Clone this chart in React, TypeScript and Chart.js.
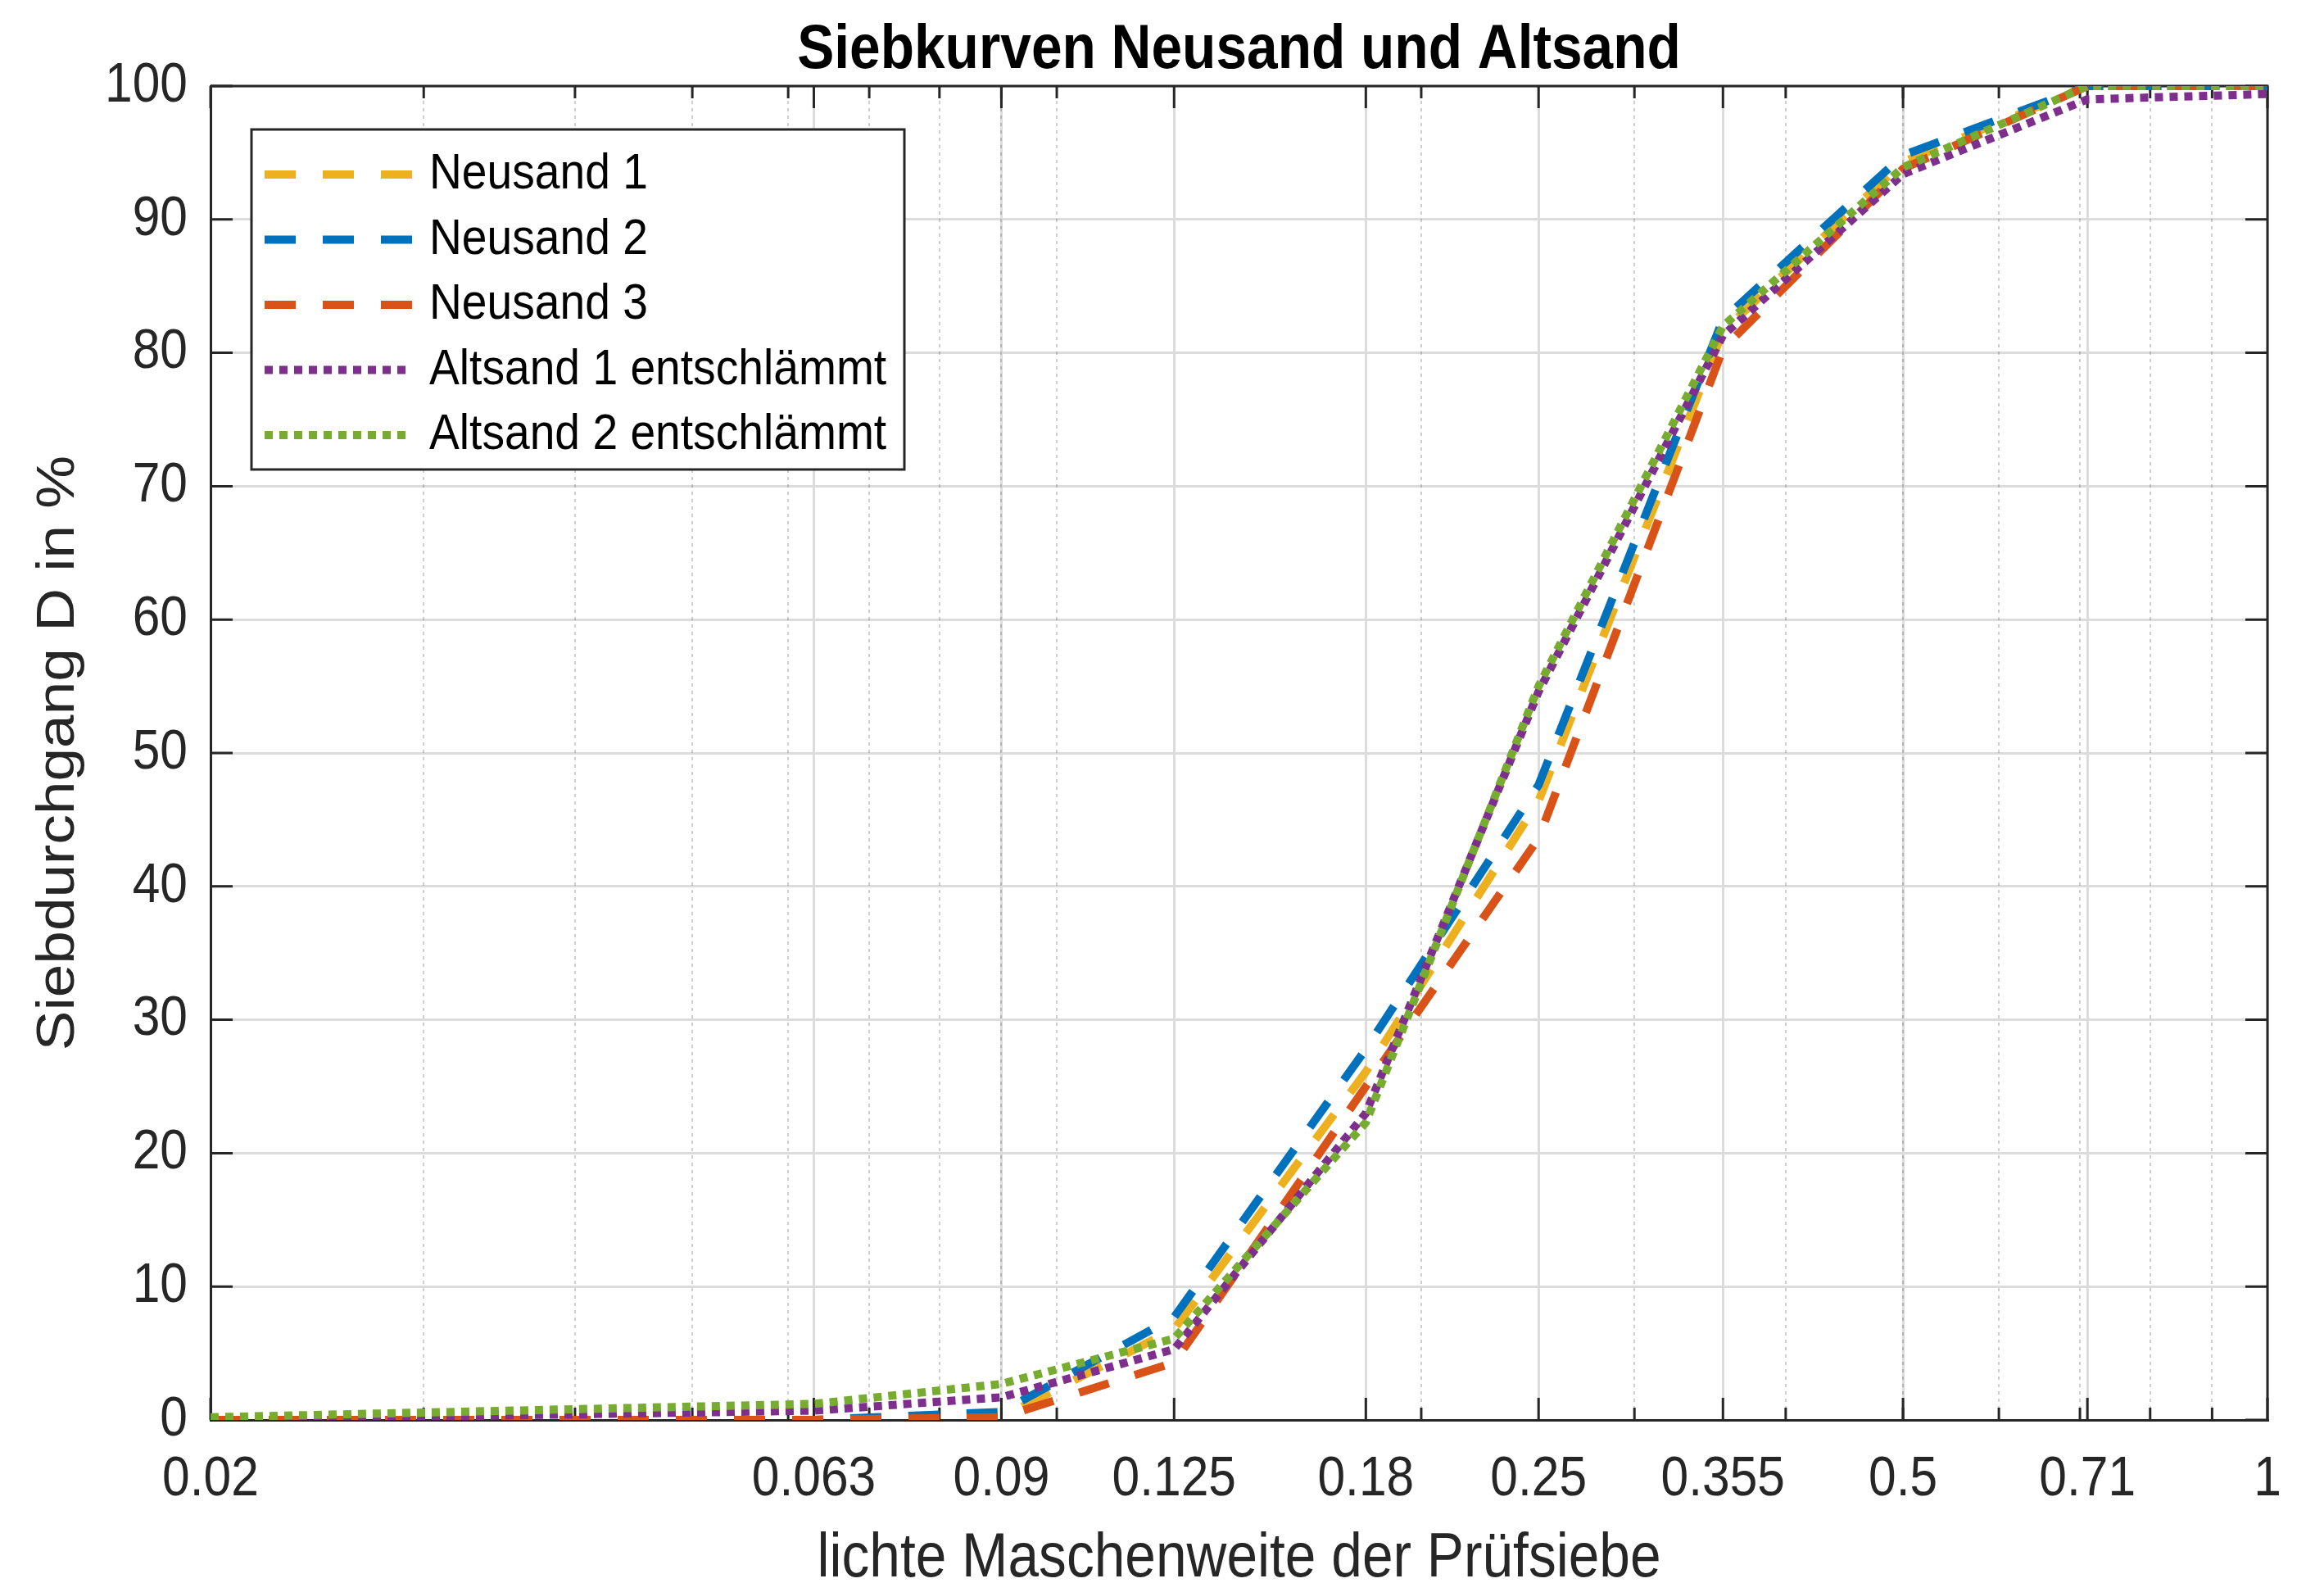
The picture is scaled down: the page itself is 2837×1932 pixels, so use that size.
import React, { useEffect, useRef } from "react";
import { Chart, registerables } from "chart.js";

Chart.register(...registerables);

// ---------------- data ----------------
const SIEVE_SIZES = [0.02, 0.063, 0.09, 0.125, 0.18, 0.25, 0.355, 0.5, 0.71, 1];
const NEUSAND_1 = [0, 0, 0.2, 6.8, 26.1, 46.4, 81.6, 94.3, 100, 100];
const NEUSAND_2 = [0, 0, 0.6, 7.7, 27.8, 47.6, 82.5, 94.8, 100, 100];
const NEUSAND_3 = [0, 0, 0.2, 4.3, 25.0, 43.6, 80.3, 93.8, 100, 100];
const ALTSAND_1 = [0, 0.7, 1.7, 5.3, 23.0, 54.6, 81.3, 93.4, 99.0, 99.4];
const ALTSAND_2 = [0.2, 1.2, 2.7, 6.1, 22.3, 55.0, 82.0, 93.9, 100, 100];

const SERIES_NAMES = [
  "Neusand 1",
  "Neusand 2",
  "Neusand 3",
  "Altsand 1 entschlämmt",
  "Altsand 2 entschlämmt",
];
const SERIES_VALUES = [NEUSAND_1, NEUSAND_2, NEUSAND_3, ALTSAND_1, ALTSAND_2];

const X_TICKS = [0.02, 0.063, 0.09, 0.125, 0.18, 0.25, 0.355, 0.5, 0.71, 1];
const X_TICK_LABELS = ["0.02", "0.063", "0.09", "0.125", "0.18", "0.25", "0.355", "0.5", "0.71", "1"];
const X_MINOR = [0.03, 0.04, 0.05, 0.06, 0.07, 0.08, 0.09, 0.1, 0.2, 0.3, 0.4, 0.5, 0.6, 0.7, 0.8, 0.9];
const Y_MIN = 0;
const Y_MAX = 100;
const Y_STEP = 10;

const TITLE = "Siebkurven Neusand und Altsand";
const X_TITLE = "lichte Maschenweite der Prüfsiebe";
const Y_TITLE = "Siebdurchgang D in %";

// ---------------- styles ----------------
const W = 2837;
const H = 1932;
const FONT = "'Liberation Sans', Arial, Helvetica, sans-serif";
const AXIS_COLOR = "#262626";
const SERIES_COLORS = ["#EDB120", "#0072BD", "#D95319", "#7E2F8E", "#77AC30"];
const DASHED = [38, 33];
const DOTTED = [10, 8];
const SERIES_DASH = [DASHED, DASHED, DASHED, DOTTED, DOTTED];
const LINE_W = 10;
const TEXT_SQUEEZE = 0.89;

function squeezeText(ctx: CanvasRenderingContext2D) {
  const orig = ctx.fillText;
  (ctx as any).fillText = function (text: string, x: number, y: number, maxWidth?: number) {
    const t = this.getTransform();
    const rotated = Math.abs(t.b) > 1e-6 || Math.abs(t.c) > 1e-6;
    this.save();
    this.translate(x, y);
    if (rotated) this.scale(1, TEXT_SQUEEZE);
    else this.scale(TEXT_SQUEEZE, 1);
    if (maxWidth === undefined || maxWidth === null) orig.call(this, text, 0, 0);
    else orig.call(this, text, 0, 0, maxWidth / TEXT_SQUEEZE);
    this.restore();
  };
}

const axesPlugin = {
  id: "matlabAxes",
  beforeDatasetsDraw(chart: any) {
    const { ctx, chartArea } = chart;
    const { left, right, top, bottom } = chartArea;
    const xs = chart.scales.x;
    const ys = chart.scales.y;
    ctx.save();
    // minor dotted grid
    ctx.strokeStyle = "rgba(38,38,38,0.22)";
    ctx.lineWidth = 2;
    ctx.setLineDash([4, 5]);
    X_MINOR.forEach((v) => {
      const px = Math.round(xs.getPixelForValue(v));
      ctx.beginPath();
      ctx.moveTo(px, top);
      ctx.lineTo(px, bottom);
      ctx.stroke();
    });
    ctx.setLineDash([]);
    ctx.strokeStyle = AXIS_COLOR;
    ctx.lineWidth = 3;
    // box
    ctx.beginPath();
    ctx.moveTo(left, top);
    ctx.lineTo(right, top);
    ctx.lineTo(right, bottom);
    ctx.stroke();
    // x ticks
    const tick = (v: number, len: number) => {
      const px = xs.getPixelForValue(v);
      ctx.beginPath();
      ctx.moveTo(px, bottom);
      ctx.lineTo(px, bottom - len);
      ctx.moveTo(px, top);
      ctx.lineTo(px, top + len);
      ctx.stroke();
    };
    X_MINOR.forEach((v) => tick(v, 15));
    X_TICKS.forEach((v) => tick(v, 27));
    // y ticks
    for (let v = Y_MIN; v <= Y_MAX; v += Y_STEP) {
      const py = ys.getPixelForValue(v);
      ctx.beginPath();
      ctx.moveTo(left, py);
      ctx.lineTo(left + 27, py);
      ctx.moveTo(right, py);
      ctx.lineTo(right - 27, py);
      ctx.stroke();
    }
    ctx.restore();
  },
};

const legendPlugin = {
  id: "matlabLegend",
  afterDatasetsDraw(chart: any) {
    const { ctx, chartArea } = chart;
    const bx = chartArea.left + 50;
    const by = chartArea.top + 53;
    const bw = 797;
    const bh = 415;
    const rowY0 = by + 55;
    const rowGap = 79.5;
    ctx.save();
    ctx.fillStyle = "#ffffff";
    ctx.fillRect(bx, by, bw, bh);
    ctx.strokeStyle = AXIS_COLOR;
    ctx.lineWidth = 3;
    ctx.strokeRect(bx, by, bw, bh);
    chart.data.datasets.forEach((ds: any, i: number) => {
      const y = rowY0 + i * rowGap;
      ctx.strokeStyle = ds.borderColor;
      ctx.lineWidth = ds.borderWidth;
      ctx.lineCap = "butt";
      ctx.setLineDash(ds.borderDash);
      ctx.beginPath();
      ctx.moveTo(bx + 16, y);
      ctx.lineTo(bx + 196, y);
      ctx.stroke();
      ctx.setLineDash([]);
      ctx.fillStyle = "#000000";
      ctx.font = `62px ${FONT}`;
      ctx.textAlign = "left";
      ctx.textBaseline = "middle";
      ctx.fillText(ds.label, bx + 217, y);
    });
    ctx.restore();
  },
};

export default function App() {
  const ref = useRef<HTMLCanvasElement>(null);

  useEffect(() => {
    document.body.style.margin = "0";
    const canvas = ref.current!;
    const ctx = canvas.getContext("2d")!;
    squeezeText(ctx);

    const datasets = SERIES_NAMES.map((name, i) => ({
      label: name,
      data: SIEVE_SIZES.map((x, j) => ({ x, y: SERIES_VALUES[i][j] })),
      borderColor: SERIES_COLORS[i],
      backgroundColor: SERIES_COLORS[i],
      borderWidth: LINE_W,
      borderDash: SERIES_DASH[i],
      borderCapStyle: "butt" as const,
      borderJoinStyle: "miter" as const,
      pointRadius: 0,
      pointHoverRadius: 0,
      tension: 0,
      fill: false,
      clip: 0,
      order: SERIES_NAMES.length - i,
    }));

    const chart = new Chart(ctx, {
      type: "line",
      data: { datasets },
      plugins: [axesPlugin, legendPlugin],
      options: {
        animation: false,
        responsive: false,
        maintainAspectRatio: false,
        devicePixelRatio: 1,
        events: [],
        layout: { padding: { left: 0, right: 69, top: 0, bottom: 0 } },
        plugins: {
          legend: { display: false },
          tooltip: { enabled: false },
          title: {
            display: true,
            text: TITLE,
            fullSize: false,
            color: "#000000",
            font: { family: FONT, size: 76, weight: "bold", lineHeight: 1.1 },
            padding: { top: 19.8, bottom: 1.6 },
          },
        },
        scales: {
          x: {
            type: "logarithmic",
            min: 0.02,
            max: 1,
            afterBuildTicks: (axis: any) => {
              axis.ticks = X_TICKS.map((v) => ({ value: v }));
            },
            afterFit: (axis: any) => {
              axis.height = 199;
            },
            ticks: {
              autoSkip: false,
              maxRotation: 0,
              minRotation: 0,
              padding: 32,
              color: AXIS_COLOR,
              font: { family: FONT, size: 68 },
              callback: (_v: any, index: number) => X_TICK_LABELS[index],
            },
            grid: { color: "#dcdcdc", lineWidth: 3, drawTicks: false },
            border: { display: true, color: AXIS_COLOR, width: 3 },
            title: {
              display: true,
              text: X_TITLE,
              color: AXIS_COLOR,
              font: { family: FONT, size: 76, lineHeight: 0.75 },
              padding: { top: 0, bottom: 0.5 },
            },
          },
          y: {
            type: "linear",
            min: Y_MIN,
            max: Y_MAX,
            afterFit: (axis: any) => {
              axis.width = 257;
            },
            ticks: {
              stepSize: Y_STEP,
              padding: 28,
              color: AXIS_COLOR,
              font: { family: FONT, size: 68 },
            },
            grid: { color: "#dcdcdc", lineWidth: 3, drawTicks: false },
            border: { display: true, color: AXIS_COLOR, width: 3 },
            title: {
              display: true,
              text: Y_TITLE,
              color: AXIS_COLOR,
              font: { family: FONT, size: 73, lineHeight: 1.2 },
              padding: { top: 28, bottom: 0 },
            },
          },
        },
      } as any,
    });

    return () => chart.destroy();
  }, []);

  return (
    <div style={{ width: W, height: H, background: "#ffffff" }}>
      <canvas ref={ref} width={W} height={H} style={{ width: W, height: H, display: "block" }} />
    </div>
  );
}
